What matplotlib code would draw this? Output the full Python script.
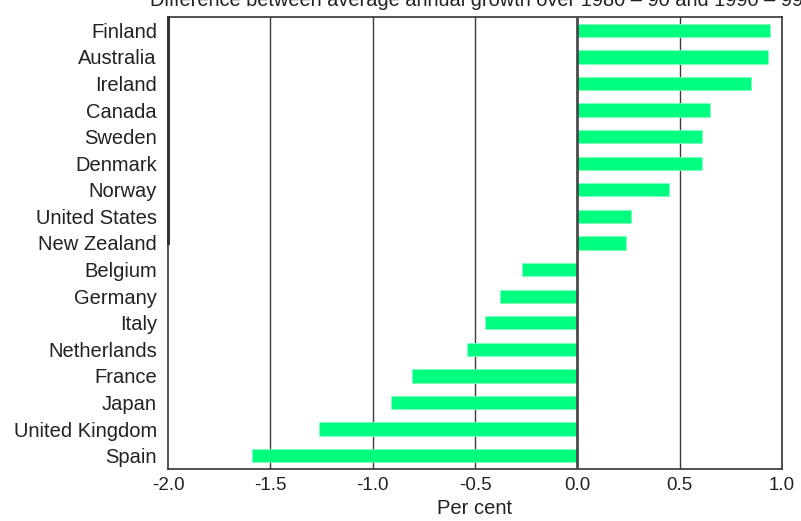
import matplotlib
matplotlib.use("Agg")
import matplotlib.pyplot as plt

plt.rcParams['font.family'] = ['Liberation Sans', 'DejaVu Sans']

countries = ["Finland", "Australia", "Ireland", "Canada", "Sweden", "Denmark",
             "Norway", "United States", "New Zealand", "Belgium", "Germany",
             "Italy", "Netherlands", "France", "Japan", "United Kingdom", "Spain"]
values = [0.94, 0.93, 0.85, 0.65, 0.61, 0.61, 0.45, 0.26, 0.24,
          -0.27, -0.38, -0.45, -0.54, -0.81, -0.91, -1.26, -1.59]
xticks = [-2.0, -1.5, -1.0, -0.5, 0.0, 0.5, 1.0]
xticklabels = ["-2.0", "-1.5", "-1.0", "-0.5", "0.0", "0.5", "1.0"]
title = "Difference between average annual growth over 1980 – 90 and 1990 – 99"
xlabel = "Per cent"

fig = plt.figure(figsize=(8.01, 5.21), dpi=100)
ax = fig.add_axes([168/801, 1 - 469/521, (782-168)/801, (469-17)/521])

ypos = list(range(len(countries)))
ax.barh(ypos, values, height=0.5, color="#00FF80", edgecolor="#7dffbe",
        linewidth=0.6, zorder=3)
ax.set_ylim(len(countries) - 0.5, -0.5)
ax.set_xlim(-2.0, 1.0)

for x in xticks[1:-1]:
    if x == 0:
        ax.axvline(x, color="#4a4a4a", linewidth=2.0, zorder=4)
    else:
        ax.axvline(x, color="#3a3a3a", linewidth=1.0, zorder=1)

# thicker upper part of the left frame, as in the reference
ax.plot([-2.0, -2.0], [-0.5, 8.0], color="#333333", linewidth=2.2,
        zorder=5, clip_on=False)

ax.set_yticks(ypos)
ax.set_yticklabels(countries, fontsize=14.5, color="#222222")
ax.set_xticks(xticks)
ax.set_xticklabels(xticklabels, fontsize=13.5, color="#222222")
ax.tick_params(axis="x", length=0, pad=6)
ax.tick_params(axis="y", length=0, pad=8)
ax.set_xlabel(xlabel, fontsize=14.5, color="#222222", labelpad=3)

for s in ax.spines.values():
    s.set_color("#333333")
    s.set_linewidth(1.2)

fig.text(150/801, 1 - 1/521, title, fontsize=14.4, color="#222222",
         ha="left", va="center")

fig.savefig("out.png", dpi=100)
